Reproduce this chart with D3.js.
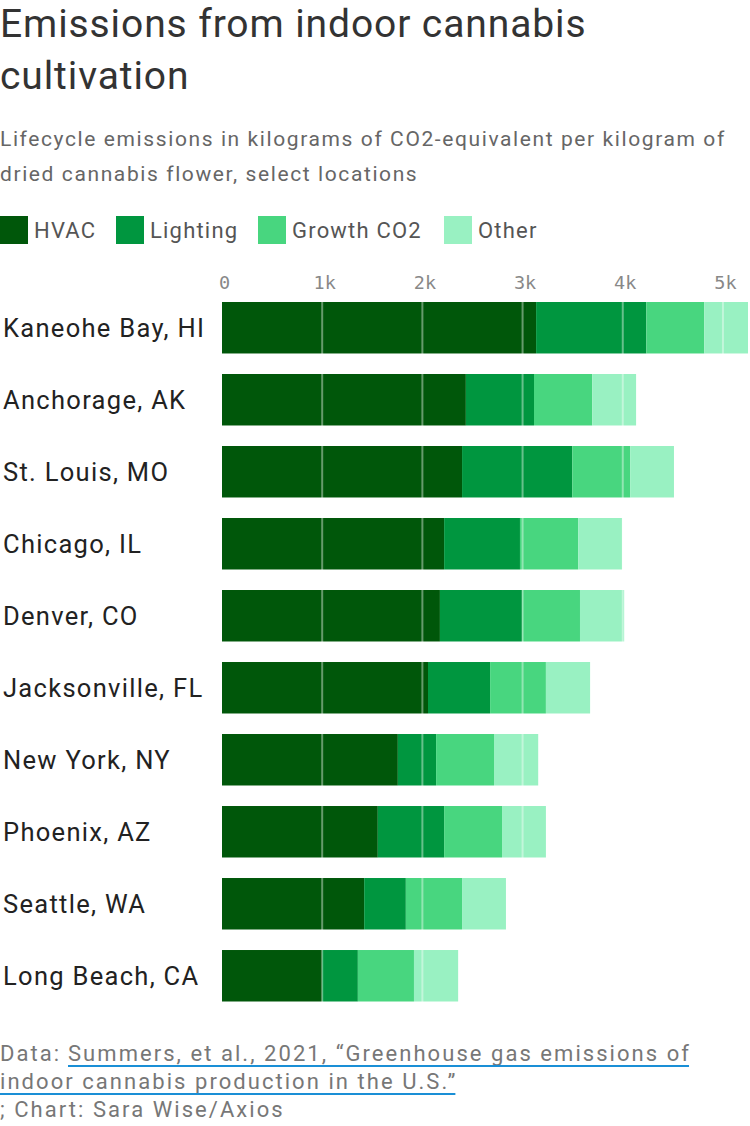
<!DOCTYPE html>
<html>
<head>
<meta charset="utf-8">
<script src="https://cdn.jsdelivr.net/npm/d3@7"></script>
<style>
  html, body { margin: 0; padding: 0; background: #fff; }
  svg { display: block; }
</style>
</head>
<body>
<svg id="chart" width="750" height="1126"></svg>
<script>
const cities = ["Kaneohe Bay, HI", "Anchorage, AK", "St. Louis, MO", "Chicago, IL", "Denver, CO",
  "Jacksonville, FL", "New York, NY", "Phoenix, AZ", "Seattle, WA", "Long Beach, CA"];
const seriesNames = ["HVAC", "Lighting", "Growth CO2", "Other"];
const hvac     = [3135, 2434, 2396, 2217, 2175, 2056, 1755, 1555, 1419, 998];
const lighting = [1100,  680, 1100,  757,  820,  620,  382,  662,  416, 358];
const growth   = [ 578,  581,  578,  581,  578,  557,  578,  578,  561, 560];
const other    = [ 437,  438,  437,  438,  441,  441,  441,  438,  438, 441];
const tickValues = [0, 1000, 2000, 3000, 4000, 5000];
const tickLabels = ["0", "1k", "2k", "3k", "4k", "5k"];
const colors = ["#00570a", "#00963f", "#48d67f", "#99f1c2"];

const svg = d3.select("#chart");
const sans = "Roboto, 'Noto Sans', sans-serif";

// Title
const title = svg.append("g").attr("fill", "#333").attr("font-family", sans)
  .attr("font-size", 39).attr("letter-spacing", 0.9);
title.append("text").attr("x", 0).attr("y", 37).text("Emissions from indoor cannabis");
title.append("text").attr("x", 0).attr("y", 89).text("cultivation");

// Subtitle
const sub = svg.append("g").attr("fill", "#666").attr("font-family", sans)
  .attr("font-size", 21).attr("letter-spacing", 1.6);
sub.append("text").attr("x", 0).attr("y", 146).text("Lifecycle emissions in kilograms of CO2\u2011equivalent per kilogram of");
sub.append("text").attr("x", 0).attr("y", 181).text("dried cannabis flower, select locations");

// Legend
const legendX = [0, 116, 258, 444];
const leg = svg.append("g");
seriesNames.forEach((n, i) => {
  leg.append("rect").attr("x", legendX[i]).attr("y", 216).attr("width", 28).attr("height", 28).attr("fill", colors[i]);
  leg.append("text").attr("x", legendX[i] + 34).attr("y", 238).attr("fill", "#555")
    .attr("font-family", sans).attr("font-size", 22).attr("letter-spacing", 1.2).text(n);
});

// Scales
const rows = cities.map((c, i) => ({ city: c, HVAC: hvac[i], Lighting: lighting[i], "Growth CO2": growth[i], Other: other[i] }));
const maxTotal = d3.max(rows, d => d.HVAC + d.Lighting + d["Growth CO2"] + d.Other);
const x = d3.scaleLinear().domain([0, maxTotal]).range([222, 748]);
const y = d3.scaleBand().domain(cities).range([302, 1001.5]).paddingInner(0.285).paddingOuter(0);

const stack = d3.stack().keys(seriesNames)(rows);

svg.append("g").selectAll("g").data(stack).join("g")
  .attr("fill", (d, i) => colors[i])
  .selectAll("rect").data(d => d).join("rect")
  .attr("x", d => x(d[0]))
  .attr("y", d => y(d.data.city))
  .attr("width", d => x(d[1]) - x(d[0]))
  .attr("height", y.bandwidth());

// Gridlines on top
svg.append("g").selectAll("line").data(tickValues.slice(1)).join("line")
  .attr("x1", d => x(d)).attr("x2", d => x(d))
  .attr("y1", 298).attr("y2", 1004)
  .attr("stroke", "#fff").attr("stroke-opacity", 0.4).attr("stroke-width", 2);

// Axis
const axis = d3.axisTop(x).tickValues(tickValues).tickFormat((d, i) => tickLabels[i]).tickSize(0).tickPadding(0);
const ag = svg.append("g").attr("transform", "translate(0,289)").call(axis);
ag.select(".domain").remove();
ag.selectAll("text").attr("font-family", "'DejaVu Sans Mono', monospace").attr("font-size", 18.5)
  .attr("fill", "#888").attr("dy", 0).attr("x", 2);

// Row labels
svg.append("g").selectAll("text").data(cities).join("text")
  .attr("x", 3).attr("y", d => y(d) + y.bandwidth() / 2 + 9)
  .attr("fill", "#222").attr("font-family", sans).attr("font-size", 25.5).attr("letter-spacing", 1.3)
  .text(d => d);

// Footer
const foot = svg.append("g").attr("font-family", sans).attr("font-size", 22)
  .attr("letter-spacing", 2.05).attr("fill", "#777");
function underlined(xPos, yPos, txt) {
  const t = foot.append("text").attr("x", xPos).attr("y", yPos).text(txt);
  const w = t.node().getComputedTextLength();
  foot.append("rect").attr("x", xPos).attr("y", yPos + 4).attr("width", w - 2).attr("height", 2).attr("fill", "#1a8fd6");
  return w;
}
foot.append("text").attr("x", 0).attr("y", 1061).text("Data:");
underlined(68, 1061, "Summers, et al., 2021, \u201cGreenhouse gas emissions of");
underlined(0, 1089, "indoor cannabis production in the U.S.\u201d");
foot.append("text").attr("x", 0).attr("y", 1117).text("; Chart: Sara Wise/Axios");
</script>
</body>
</html>
